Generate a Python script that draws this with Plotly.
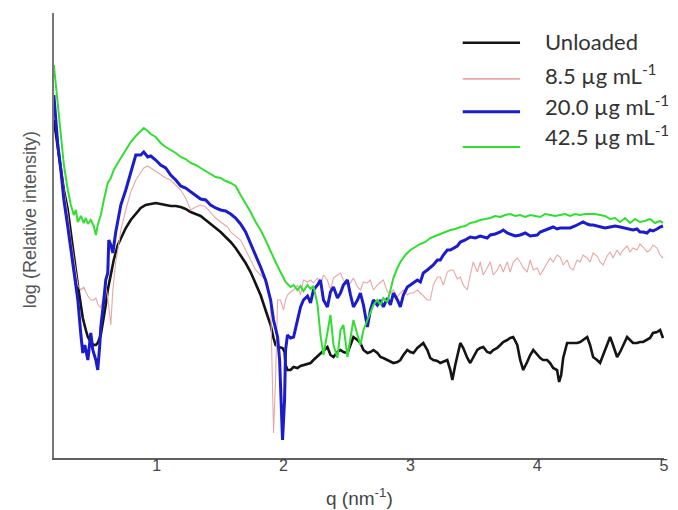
import plotly.graph_objects as go

# ---------------- data (q in nm^-1, log relative intensity in arbitrary units) ----------------
q_unloaded = [0.189,0.205,0.220,0.244,0.268,0.299,0.323,0.346,0.362,0.378,0.402,0.417,0.441,0.457,0.480,0.504,0.520,0.535,0.559,0.583,
              0.598,0.614,0.638,0.661,0.693,0.717,0.756,0.795,0.835,0.874,0.913,0.953,0.992,1.031,1.071,1.110,1.150,1.189,1.228,1.268,
              1.307,1.346,1.386,1.425,1.465,1.504,1.543,1.583,1.622,1.661,1.701,1.740,1.780,1.819,1.858,1.898,1.921,1.937,1.961,1.992,
              2.008,2.016,2.031,2.055,2.079,2.110,2.134,2.157,2.189,2.213,2.236,2.268,2.291,2.315,2.346,2.370,2.394,2.425,2.449,2.472,
              2.504,2.528,2.551,2.583,2.606,2.630,2.661,2.685,2.709,2.740,2.764,2.787,2.819,2.843,2.866,2.898,2.921,2.945,2.976,3.000,
              3.024,3.055,3.079,3.102,3.134,3.157,3.181,3.213,3.236,3.260,3.291,3.315,3.331,3.354,3.378,3.394,3.417,3.449,3.472,3.496,
              3.528,3.551,3.575,3.606,3.630,3.654,3.685,3.709,3.732,3.764,3.787,3.811,3.843,3.866,3.890,3.921,3.945,3.969,4.000,4.024,
              4.047,4.079,4.102,4.126,4.157,4.173,4.189,4.205,4.236,4.260,4.283,4.315,4.339,4.362,4.394,4.417,4.441,4.472,4.496,4.520,
              4.551,4.575,4.598,4.630,4.654,4.677,4.709,4.732,4.756,4.787,4.811,4.835,4.866,4.890,4.913,4.945,4.969,4.992]
i_unloaded = [3.38,3.23,3.08,2.88,2.68,2.48,2.23,2.03,1.88,1.73,1.53,1.40,1.28,1.21,1.16,1.13,1.13,1.15,1.23,1.40,
              1.53,1.68,1.83,1.98,2.13,2.20,2.30,2.38,2.44,2.50,2.53,2.54,2.55,2.54,2.53,2.52,2.52,2.51,2.49,2.46,
              2.44,2.42,2.38,2.34,2.30,2.26,2.21,2.16,2.10,2.03,1.95,1.86,1.75,1.63,1.48,1.33,1.20,1.13,1.11,1.10,
              1.06,0.93,0.88,0.88,0.91,0.90,0.92,0.93,0.94,0.95,0.98,1.02,1.05,1.08,1.11,1.03,1.01,1.06,1.08,1.06,
              1.05,1.13,1.21,1.18,1.15,1.08,1.05,1.06,1.08,1.05,1.01,1.00,0.98,0.96,0.95,0.96,0.98,1.03,1.08,1.06,
              1.05,1.10,1.13,1.15,1.08,1.00,0.98,0.97,0.95,0.96,0.98,0.88,0.78,0.93,1.08,1.15,1.10,1.00,0.95,1.00,
              1.08,1.10,1.11,1.06,1.05,1.08,1.10,1.13,1.16,1.18,1.20,1.21,1.13,0.98,0.88,0.96,1.03,1.08,1.03,1.00,
              0.98,0.98,0.95,0.90,0.88,0.76,0.83,1.00,1.15,1.15,1.15,1.15,1.16,1.18,1.21,1.13,1.01,0.98,0.95,1.03,
              1.13,1.21,1.13,1.01,1.06,1.13,1.21,1.18,1.15,1.15,1.16,1.16,1.18,1.20,1.25,1.26,1.28,1.20]

q_8p5 = [0.189,0.205,0.220,0.244,0.268,0.299,0.323,0.346,0.362,0.378,0.402,0.425,0.441,0.457,0.480,0.504,0.520,0.535,0.559,0.583,
         0.598,0.614,0.622,0.638,0.654,0.677,0.693,0.717,0.756,0.795,0.835,0.874,0.898,0.929,0.953,0.992,1.031,1.071,1.110,1.134,
         1.150,1.189,1.228,1.268,1.307,1.346,1.386,1.425,1.465,1.504,1.543,1.559,1.583,1.622,1.661,1.701,1.740,1.764,1.780,1.819,
         1.858,1.874,1.898,1.913,1.921,1.937,1.953,1.976,2.000,2.016,2.031,2.055,2.079,2.110,2.134,2.157,2.189,2.213,2.236,2.268,
         2.291,2.315,2.346,2.370,2.394,2.425,2.449,2.472,2.504,2.528,2.551,2.583,2.606,2.630,2.661,2.685,2.709,2.740,2.764,2.787,
         2.819,2.843,2.866,2.898,2.921,2.945,2.976,3.000,3.024,3.055,3.079,3.102,3.134,3.157,3.181,3.213,3.236,3.260,3.291,3.315,
         3.339,3.370,3.394,3.417,3.449,3.472,3.496,3.528,3.551,3.575,3.606,3.630,3.654,3.685,3.709,3.732,3.764,3.787,3.811,3.843,
         3.866,3.890,3.921,3.945,3.969,4.000,4.024,4.047,4.079,4.102,4.126,4.157,4.181,4.205,4.236,4.260,4.283,4.315,4.339,4.362,
         4.394,4.417,4.441,4.472,4.496,4.520,4.551,4.575,4.598,4.630,4.654,4.677,4.709,4.732,4.756,4.787,4.811,4.835,4.866,4.890,
         4.913,4.945,4.969,4.992]
i_8p5 = [3.58,3.38,3.18,2.93,2.68,2.43,2.18,1.98,1.83,1.73,1.68,1.71,1.66,1.62,1.58,1.58,1.60,1.54,1.50,1.63,
         1.73,1.60,1.48,1.33,1.68,1.96,2.08,2.28,2.48,2.66,2.78,2.86,2.90,2.92,2.90,2.86,2.83,2.80,2.78,2.75,
         2.73,2.68,2.60,2.48,2.51,2.53,2.51,2.45,2.40,2.36,2.33,2.31,2.26,2.22,2.18,2.08,1.98,1.91,1.88,1.83,
         1.78,1.76,1.58,0.78,0.25,0.78,1.58,1.58,1.48,1.58,1.63,1.66,1.68,1.73,1.63,1.78,1.76,1.78,1.75,1.80,
         1.73,1.83,1.78,1.68,1.80,1.83,1.85,1.78,1.73,1.75,1.80,1.71,1.68,1.76,1.75,1.78,1.68,1.73,1.76,1.78,
         1.66,1.65,1.68,1.61,1.65,1.68,1.63,1.65,1.65,1.68,1.65,1.62,1.58,1.58,1.73,1.81,1.81,1.73,1.86,1.88,
         1.88,1.79,1.81,1.73,1.68,1.83,1.96,1.86,1.96,1.83,1.90,1.96,1.83,1.88,1.94,1.86,1.96,1.86,1.96,2.00,
         1.96,1.90,1.86,1.98,1.88,1.90,1.83,1.88,1.96,2.00,1.96,2.03,2.01,1.93,1.98,1.90,1.88,1.98,1.96,2.03,
         2.00,1.96,2.05,2.02,1.96,1.93,2.02,2.06,2.00,2.08,2.03,2.08,2.12,2.06,2.10,2.08,2.14,2.11,2.06,2.08,
         2.13,2.10,2.03,2.00]

q_20 = [0.189,0.205,0.220,0.244,0.268,0.299,0.323,0.346,0.362,0.378,0.402,0.417,0.433,0.457,0.480,0.496,0.520,0.535,0.551,0.559,
        0.583,0.598,0.614,0.622,0.638,0.654,0.677,0.693,0.717,0.756,0.795,0.835,0.874,0.898,0.929,0.953,0.992,1.031,1.071,1.110,
        1.150,1.189,1.228,1.268,1.307,1.346,1.386,1.425,1.465,1.504,1.543,1.583,1.622,1.661,1.701,1.740,1.780,1.819,1.858,1.898,
        1.921,1.953,1.969,1.984,1.992,2.008,2.016,2.031,2.055,2.079,2.110,2.134,2.157,2.189,2.213,2.236,2.268,2.291,2.315,2.346,
        2.370,2.394,2.425,2.449,2.472,2.504,2.528,2.551,2.583,2.606,2.630,2.661,2.685,2.709,2.740,2.764,2.787,2.819,2.843,2.866,
        2.898,2.921,2.945,2.976,3.000,3.024,3.055,3.079,3.102,3.134,3.157,3.181,3.213,3.236,3.260,3.291,3.315,3.339,3.370,3.394,
        3.433,3.472,3.512,3.551,3.606,3.630,3.669,3.709,3.732,3.764,3.787,3.827,3.866,3.906,3.945,4.000,4.024,4.063,4.102,4.126,
        4.157,4.181,4.220,4.260,4.299,4.339,4.362,4.394,4.417,4.441,4.472,4.496,4.535,4.575,4.614,4.654,4.693,4.732,4.756,4.787,
        4.811,4.835,4.866,4.890,4.913,4.945,4.969,4.992]
i_20 = [3.63,3.38,3.13,2.88,2.58,2.31,2.08,1.85,1.68,1.58,1.23,1.05,1.13,0.98,1.25,1.08,0.98,0.88,1.13,1.31,
        1.58,1.78,1.85,2.18,2.13,2.05,2.26,2.38,2.53,2.68,2.86,3.03,3.03,3.06,3.01,3.02,2.98,2.93,2.90,2.83,
        2.78,2.72,2.70,2.66,2.62,2.59,2.58,2.53,2.50,2.48,2.47,2.44,2.40,2.34,2.26,2.15,2.03,1.91,1.78,1.58,
        1.38,1.21,0.98,0.48,0.18,0.58,1.08,1.23,1.20,1.21,1.38,1.51,1.58,1.62,1.55,1.68,1.73,1.78,1.58,1.51,
        1.66,1.71,1.60,1.65,1.73,1.78,1.63,1.51,1.58,1.65,1.53,1.31,1.48,1.58,1.53,1.58,1.51,1.60,1.53,1.65,
        1.58,1.51,1.63,1.71,1.73,1.75,1.78,1.76,1.85,1.88,1.90,1.93,1.98,1.98,2.03,2.08,2.08,2.10,2.12,2.16,
        2.18,2.21,2.20,2.22,2.20,2.23,2.24,2.26,2.28,2.25,2.24,2.22,2.23,2.25,2.22,2.23,2.26,2.28,2.30,2.31,
        2.29,2.30,2.30,2.30,2.32,2.35,2.36,2.34,2.33,2.33,2.32,2.32,2.30,2.31,2.32,2.31,2.30,2.29,2.28,2.29,
        2.26,2.26,2.25,2.28,2.27,2.29,2.31,2.32]

q_42p5 = [0.189,0.205,0.220,0.244,0.268,0.299,0.323,0.346,0.362,0.378,0.402,0.425,0.441,0.457,0.480,0.504,0.520,0.535,0.559,0.583,
          0.598,0.614,0.638,0.661,0.693,0.717,0.756,0.795,0.835,0.874,0.898,0.929,0.953,0.992,1.031,1.071,1.110,1.150,1.189,1.228,
          1.268,1.307,1.346,1.386,1.425,1.465,1.504,1.543,1.583,1.622,1.661,1.701,1.740,1.780,1.819,1.858,1.898,1.937,1.976,2.016,
          2.055,2.079,2.110,2.134,2.157,2.189,2.213,2.236,2.268,2.291,2.315,2.346,2.370,2.394,2.425,2.449,2.472,2.504,2.528,2.551,
          2.583,2.606,2.630,2.661,2.685,2.709,2.740,2.764,2.787,2.819,2.843,2.866,2.898,2.921,2.961,3.000,3.039,3.079,3.118,3.157,
          3.197,3.236,3.276,3.315,3.354,3.394,3.433,3.472,3.512,3.551,3.591,3.630,3.669,3.709,3.748,3.787,3.827,3.866,3.906,3.945,
          3.984,4.024,4.063,4.102,4.142,4.181,4.220,4.260,4.299,4.339,4.378,4.417,4.457,4.496,4.535,4.575,4.614,4.654,4.693,4.732,
          4.772,4.811,4.850,4.890,4.929,4.969,4.992]
i_42p5 = [3.93,3.73,3.48,3.18,2.93,2.68,2.53,2.43,2.48,2.36,2.42,2.35,2.40,2.34,2.38,2.32,2.23,2.33,2.43,2.58,
          2.68,2.75,2.80,2.88,2.95,3.00,3.08,3.16,3.22,3.27,3.30,3.27,3.24,3.21,3.15,3.11,3.08,3.05,3.01,2.99,
          2.95,2.93,2.90,2.87,2.84,2.81,2.80,2.77,2.75,2.72,2.63,2.55,2.46,2.36,2.28,2.18,2.06,1.96,1.86,1.76,
          1.71,1.73,1.68,1.72,1.67,1.73,1.69,1.72,1.53,1.23,1.03,1.28,1.43,1.13,1.00,1.28,1.33,1.01,1.18,1.38,
          1.23,1.13,1.28,1.38,1.46,1.53,1.58,1.53,1.60,1.56,1.68,1.80,1.90,1.96,2.03,2.08,2.11,2.14,2.16,2.20,
          2.22,2.24,2.26,2.28,2.29,2.31,2.32,2.35,2.36,2.38,2.39,2.40,2.42,2.41,2.43,2.44,2.42,2.43,2.41,2.43,
          2.42,2.41,2.44,2.43,2.42,2.43,2.44,2.42,2.44,2.43,2.44,2.44,2.44,2.43,2.42,2.39,2.40,2.36,2.40,2.35,
          2.39,2.36,2.37,2.39,2.35,2.37,2.35]

series_names = ["Unloaded", "8.5 µg mL<sup>-1</sup>", "20.0 µg mL<sup>-1</sup>", "42.5 µg mL<sup>-1</sup>"]
x_ticks = [1, 2, 3, 4, 5]
x_title = "q (nm<sup>-1</sup>)"
y_title = "log (Relative intensity)"

# ---------------- styles ----------------
colors = ["#141414", "#e6a8a8", "#1c1cc8", "#33dd33"]
widths = [2.6, 1.1, 3.0, 2.0]
series = [(q_unloaded, i_unloaded), (q_8p5, i_8p5), (q_20, i_20), (q_42p5, i_42p5)]
axis_font = "Arial, 'Liberation Sans', sans-serif"

fig = go.Figure()
for (qx, iy), name, c, w in zip(series, series_names, colors, widths):
    fig.add_trace(go.Scatter(x=qx, y=iy, mode="lines", name=name,
                             line=dict(color=c, width=w), showlegend=False))

# manual legend (line samples + labels) in paper coordinates
leg_line_y = [0.933, 0.852, 0.778, 0.699]
leg_text_y = [0.935, 0.861, 0.793, 0.724]
for name, c, w, ly, ty in zip(series_names, colors, widths, leg_line_y, leg_text_y):
    fig.add_shape(type="line", xref="paper", yref="paper", x0=0.670, x1=0.764, y0=ly, y1=ly,
                  line=dict(color=c, width=max(w, 1.6)))
    fig.add_annotation(xref="paper", yref="paper", x=0.802, y=ty, xanchor="left", yanchor="middle",
                       text=name, showarrow=False, font=dict(family="Lato", size=22, color="#333333"))

fig.add_annotation(xref="paper", yref="paper", x=0.5, y=-0.088, xanchor="center", yanchor="middle",
                   text=x_title, showarrow=False, font=dict(family=axis_font, size=19, color="#444444"))
fig.add_annotation(xref="paper", yref="paper", x=-0.039, y=0.535, xanchor="center", yanchor="middle",
                   text=y_title, textangle=-90, showarrow=False,
                   font=dict(family=axis_font, size=18, color="#555555"))

# the page body has an 8px default margin, so the figure is sized 8px smaller
fig.update_layout(
    width=670, height=502,
    margin=dict(l=46, r=14, t=5, b=52),
    paper_bgcolor="white", plot_bgcolor="white",
    xaxis=dict(range=[0.19, 5.0], tickvals=x_ticks, ticks="", showgrid=False, zeroline=False,
               showline=True, linecolor="#606060", linewidth=2, ticklabelstandoff=-8,
               tickfont=dict(family=axis_font, size=16, color="#444444")),
    yaxis=dict(range=[0, 4.45], showticklabels=False, ticks="", showgrid=False, zeroline=False,
               showline=True, linecolor="#777777", linewidth=2),
)

fig.write_html("out.html")
